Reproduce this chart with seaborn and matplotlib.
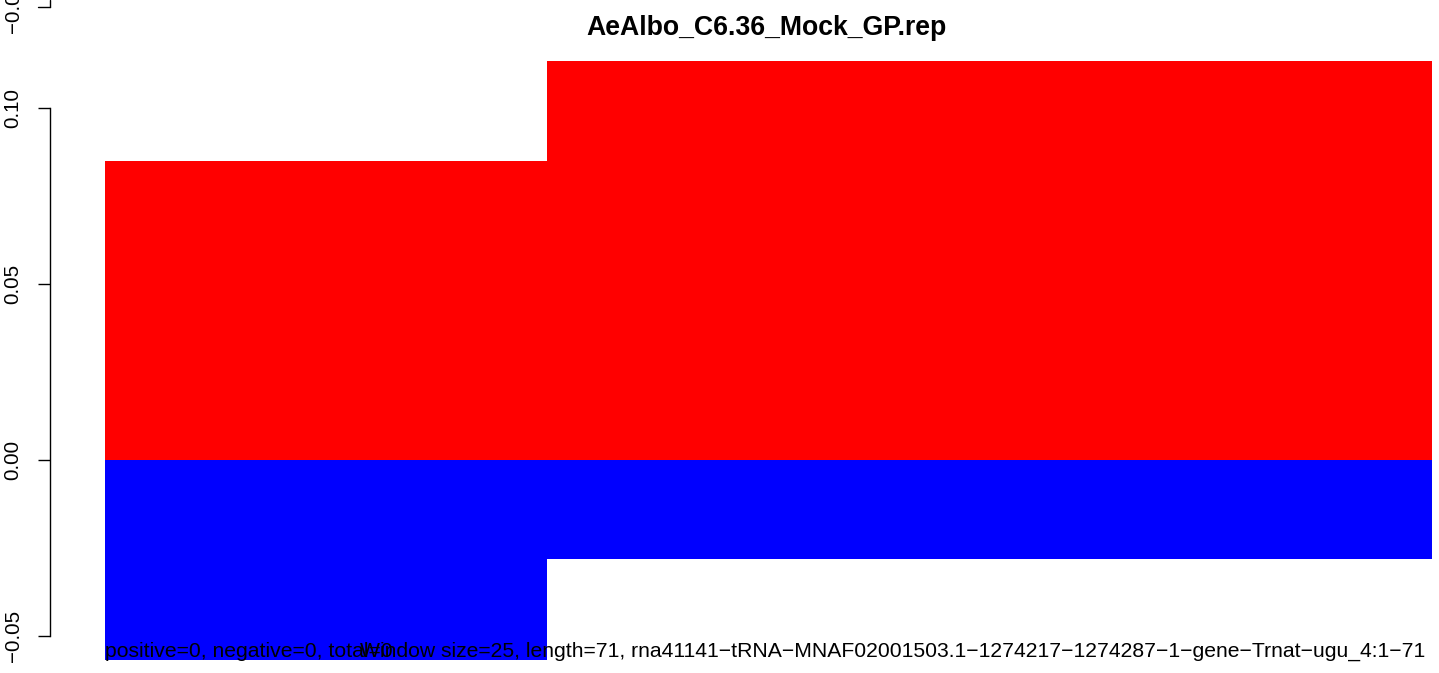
import matplotlib
matplotlib.use("Agg")
import numpy as np
import matplotlib.pyplot as plt
import matplotlib.transforms as mtransforms
import seaborn as sns
from matplotlib.lines import Line2D

# window layout (length=71, window size=25)
window_starts = [0, 24]
window_edges = [0, 24, 72]
positive_vals = [0.0849, 0.1134]
negative_vals = [-0.0568, -0.0281]
y_ticks = [-0.05, 0.00, 0.05, 0.10]

title = "AeAlbo_C6.36_Mock_GP.rep"
left_note = "positive=0, negative=0, total=0"
right_note = ("Window size=25, length=71, rna41141\u2212tRNA\u2212MNAF02001503.1\u22121274217"
              "\u22121274287\u22121\u2212gene\u2212Trnat\u2212ugu_4:1\u221271")

W, H, DPI = 1439, 673, 100

sns.set_style("white")
plt.rcParams["font.family"] = ["Liberation Sans", "DejaVu Sans"]
plt.rcParams["axes.unicode_minus"] = True
plt.rcParams["text.color"] = "black"

fig = plt.figure(figsize=(W / DPI, H / DPI), dpi=DPI)
ax = fig.add_axes([105 / W, 0.0, (1432 - 105) / W, 636 / H])

sns.histplot(x=window_starts, weights=positive_vals, bins=window_edges, ax=ax,
             color="#ff0000", alpha=1, linewidth=0, edgecolor="none")
sns.histplot(x=window_starts, weights=negative_vals, bins=window_edges, ax=ax,
             color="#0000ff", alpha=1, linewidth=0, edgecolor="none")

ax.set_xlim(0, 72)
ax.set_ylim(-213 / 3520, 423 / 3520)
ax.set_xlabel("")
ax.set_ylabel("")
ax.set_xticks([])
ax.set_yticks(y_ticks)
ax.set_yticklabels([])
ax.tick_params(axis="y", length=8.6, width=1.0, colors="black", left=True)

# R-style rotated tick labels, centred on each tick
lab_tr = mtransforms.blended_transform_factory(fig.transFigure, ax.transData)
for t in y_ticks:
    ax.text(13 / W, t, f"{t:.2f}".replace("-", "\u2212"), transform=lab_tr,
            rotation=90, ha="center", va="center", fontsize=14.8,
            color="black", clip_on=False)

for s in ["top", "right", "bottom"]:
    ax.spines[s].set_visible(False)
ax.spines["left"].set_position(("outward", 55 * 72 / DPI))
ax.spines["left"].set_bounds(-0.05, 0.10)
ax.spines["left"].set_color("black")
ax.spines["left"].set_linewidth(1.0)
ax.set_facecolor("none")

fig.text(766 / W, 1 - 35 / H, title, ha="center", va="baseline",
         fontsize=19.2, fontweight="bold", color="black")
fig.text(105 / W, 1 - 657 / H, left_note, ha="left", va="baseline",
         fontsize=15.2, color="black")
fig.text(1425 / W, 1 - 657 / H, right_note, ha="right", va="baseline",
         fontsize=15.2, color="black")

# bottom of the y axis of the panel above (clipped at the figure top)
fig.add_artist(Line2D([50 / W, 50 / W], [1.0, 1 - 7 / H], color="black", lw=1.0))
fig.add_artist(Line2D([38 / W, 50 / W], [1 - 7 / H, 1 - 7 / H], color="black", lw=1.0))
fig.text(13 / W, 1 - 7 / H, "\u22120.05", rotation=90, ha="center", va="center",
         fontsize=14.8, color="black")

fig.savefig("out.png", dpi=DPI)
